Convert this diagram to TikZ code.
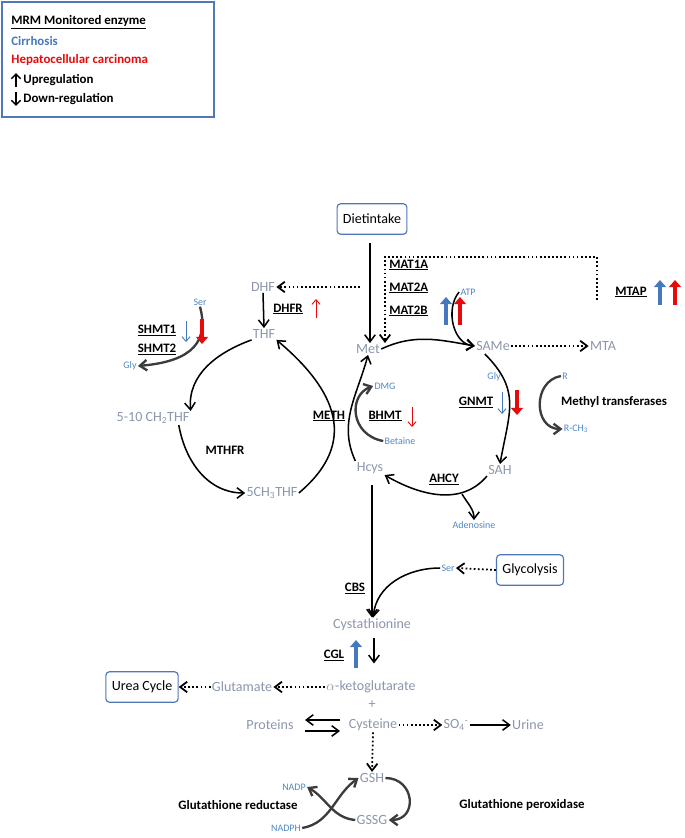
\documentclass[tikz,border=0pt]{standalone}
\usepackage{fontspec}
\setmainfont{Carlito}
\usetikzlibrary{arrows.meta,positioning}

\definecolor{metgrey}{RGB}{140,150,170}
\definecolor{smallblue}{RGB}{80,135,195}
\definecolor{cirblue}{RGB}{70,120,190}
\definecolor{hccred}{RGB}{230,10,10}
\definecolor{boxblue}{RGB}{80,120,185}
\definecolor{darkarr}{RGB}{60,60,60}

\tikzset{
  met/.style={text=metgrey,font=\fontsize{12}{13}\selectfont,inner sep=1pt},
  sm/.style={text=smallblue,font=\fontsize{8.5}{9}\selectfont,inner sep=1pt},
  enz/.style={font=\bfseries\fontsize{11}{12}\selectfont,inner sep=1pt},
  ebox/.style={draw=boxblue,line width=1pt,rounded corners=3pt,font=\fontsize{12}{13}\selectfont,minimum height=26pt,inner xsep=5pt},
  flow/.style={line width=1.3pt,-{Straight Barb[length=6pt,width=9pt]}},
  gflow/.style={flow,draw=darkarr,line width=2pt},
  dflow/.style={line width=1.5pt,dotted,-{Straight Barb[length=6pt,width=9pt]}},
  thick up/.style={line width=2.6pt,-{Triangle[length=6pt,width=10pt]}},
  thin up/.style={line width=0.8pt,-{Straight Barb[length=4pt,width=7pt]}},
}

\begin{document}
\begin{tikzpicture}[x=0.03cm,y=-0.03cm]
\useasboundingbox (0,0) rectangle (685,838);

% legend
\draw[boxblue,line width=1pt] (2,2) rectangle (214,117);
\node[enz,anchor=west] (lg1) at (10,22) {\underline{MRM Monitored enzyme}};
\node[enz,anchor=west,text=cirblue] (lg2) at (10,41) {Cirrhosis};
\node[enz,anchor=west,text=hccred] (lg3) at (10,60) {Hepatocellular carcinoma};
\node[enz,anchor=west] (lg4) at (22,80) {Upregulation};
\node[enz,anchor=west] (lg5) at (22,99) {Down-regulation};
\draw[line width=1.3pt,-{Straight Barb[length=4pt,width=8pt]}] (lg4.south west) ++(-6,0) -- ++(0,-14);
\draw[line width=1.3pt,-{Straight Barb[length=4pt,width=8pt]}] (lg5.north west) ++(-6,0) -- ++(0,14);

% metabolites
\node[ebox] (diet) at (372,219) {Dietintake};
\node[met] (dhf) at (263,287) {DHF};
\node[met] (thf) at (264,334) {THF};
\node[met] (ch2) at (153,418) {5-10 CH\textsubscript{2}THF};
\node[met] (ch3) at (272,493) {5CH\textsubscript{3}THF};
\node[met] (met) at (368,349) {Met};
\node[met] (same) at (493,346) {SAMe};
\node[met] (mta) at (603,346) {MTA};
\node[met] (sah) at (500,470) {SAH};
\node[met] (hcys) at (370,468) {Hcys};
\node[met] (cysta) at (372,625) {Cystathionine};
\node[met] (akg) at (371,687) {$\alpha$-ketoglutarate};
\node[met] (glu) at (242,687) {Glutamate};
\node[ebox] (urea) at (142,687) {Urea Cycle};
\node[met] (plus) at (372,705) {+};
\node[met] (cys) at (373,725) {Cysteine};
\node[met] (prot) at (270,725) {Proteins};
\node[met] (so4) at (456,725) {SO\textsubscript{4}\textsuperscript{-}};
\node[met] (urine) at (528,725) {Urine};
\node[met] (gsh) at (372,778) {GSH};
\node[met] (gssg) at (372,820) {GSSG};
\node[ebox] (glyc) at (530,570) {Glycolysis};

% cofactors
\node[sm] (ser1) at (200,302) {Ser};
\node[sm] (gly1) at (130,366) {Gly};
\node[sm] (atp) at (468,292) {ATP};
\node[sm] (dmg) at (385,386) {DMG};
\node[sm] (bet) at (400,441) {Betaine};
\node[sm] (gly2) at (494,377) {Gly};
\node[sm] (r) at (565,376) {R};
\node[sm] (rch3) at (576,429) {R-CH\textsubscript{3}};
\node[sm] (ade) at (474,525) {Adenosine};
\node[sm] (ser2) at (448,568) {Ser};
\node[sm] (nadp) at (294,787) {NADP};
\node[sm] (nadph) at (286,828) {NADPH};

% enzymes
\node[enz,anchor=west] (mat1a) at (388,265) {\underline{MAT1A}};
\node[enz,anchor=west] (mat2a) at (388,288) {\underline{MAT2A}};
\node[enz,anchor=west] (mat2b) at (388,311) {\underline{MAT2B}};
\node[enz] (dhfr) at (288,309) {\underline{DHFR}};
\node[enz] (shmt1) at (157,330) {\underline{SHMT1}};
\node[enz] (shmt2) at (157,349) {\underline{SHMT2}};
\node[enz] (mthfr) at (225,450) {MTHFR};
\node[enz] (meth) at (329,416) {\underline{METH}};
\node[enz] (bhmt) at (385,416) {\underline{BHMT}};
\node[enz] (mtap) at (631,292) {\underline{MTAP}};
\node[enz] (gnmt) at (476,402) {\underline{GNMT}};
\node[enz] (mtr) at (614,402) {Methyl transferases};
\node[enz] (ahcy) at (444,479) {\underline{AHCY}};
\node[enz] (cbs) at (355,588) {\underline{CBS}};
\node[enz] (cgl) at (334,655) {\underline{CGL}};
\node[enz] (gred) at (238,805) {Glutathione reductase};
\node[enz] (gper) at (522,805) {Glutathione peroxidase};

% folate cycle
\draw[dflow] (360,287) -- (dhf.east);
\draw[flow] (dhf.south) -- (thf.north);
\draw[gflow] (ser1.south) to[out=-75,in=5,looseness=1.3] (gly1.east);
\draw[flow] (thf.south west) to[out=-160,in=95] (ch2.north east);
\draw[flow] ([xshift=22pt]ch2.south) to[out=-80,in=180] (ch3.west);
\draw[flow] (ch3.east) to[out=40,in=-40,looseness=1.3] (thf.south east);

% methionine cycle
\coordinate (mtop) at (385,257);
\draw[flow] (diet.south) ++(-2,8) coordinate (dstart) -- (dstart |- met.north);
\draw[dflow] (597,300) |- (mtop) -- (mtop |- met.north);
\draw[flow] (met.east) to[out=25,in=170] (same.west);
\draw[flow] (atp.west) to[out=-130,in=175] (same.west);
\draw[dflow] (same.east) -- (mta.west);
\draw[flow] (same.south west) ++(10,2) to[out=-45,in=80,looseness=1.2] (sah.north);
\draw[gflow] (r.west) to[out=190,in=180,looseness=1.4] (rch3.west);
\draw[flow] (sah.south west) to[out=-130,in=-30] (hcys.south east);
\draw[flow] (462,494) to[out=-60,in=90] (ade.north);
\draw[flow] (hcys.north west) to[out=115,in=-105] (met.south);
\draw[gflow] (bet.west) .. controls (350,435) and (348,395) .. (dmg.west);

% transsulfuration
\draw[flow] (hcys.south) ++(2,10) coordinate (hstart) -- (hstart |- cysta.north);
\draw[dflow] (glyc.west) -- (ser2.east);
\draw[flow] (ser2.west) to[out=180,in=85] ([xshift=1pt]cysta.north);
\draw[flow] (cysta.south) ++(2,6) coordinate (cstart) -- ++(0,25);
\draw[dflow] (akg.west) -- (glu.east);
\draw[dflow] (glu.west) -- (urea.east);
\draw[flow] (340,720) -- (305,720);
\draw[flow] (305,731) -- (340,731);
\draw[dflow] (cys.east) -- (so4.west);
\draw[flow] (so4.east) -- (urine.west);
\draw[dflow] (cys.south) -- (gsh.north);
\draw[gflow] (gsh.east) to[out=0,in=0,looseness=1.8] (gssg.east);
\draw[gflow] (nadph.east) to[out=10,in=-145] (gsh.west);
\draw[gflow] (gssg.west) to[out=175,in=-30] (nadp.east);

% regulation
\draw[thick up,cirblue] (446,325) -- (446,297);
\draw[thick up,hccred] (460,325) -- (460,297);
\draw[thin up,hccred] (316,318) -- (316,299);
\draw[thin up,cirblue] (186,321) -- (186,342);
\draw[thick up,hccred] (202,319) -- (202,344);
\draw[thin up,hccred] (412,407) -- (412,427);
\draw[thick up,cirblue] (660,305) -- (660,280);
\draw[thick up,hccred] (675,305) -- (675,280);
\draw[thin up,cirblue] (502,392) -- (502,414);
\draw[thick up,hccred] (517,390) -- (517,415);
\draw[thick up,cirblue] (356,668) -- (356,640);
\end{tikzpicture}
\end{document}
